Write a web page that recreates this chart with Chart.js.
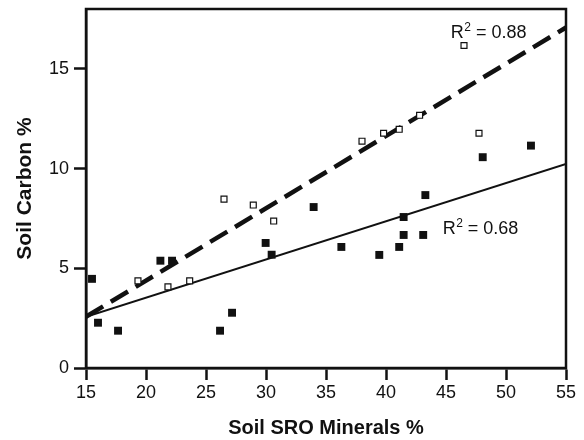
<!DOCTYPE html>
<html>
<head>
<meta charset="utf-8">
<script src="https://cdn.jsdelivr.net/npm/chart.js@4/dist/chart.umd.min.js"></script>
<style>
  html, body { margin: 0; padding: 0; background: #fff; }
  #wrap { width: 584px; height: 440px; }
</style>
</head>
<body>
<div id="wrap"><canvas id="c" width="584" height="440"></canvas></div>
<script>
// ---- data ----
const openX   = [19.33, 21.83, 23.64, 26.5, 28.94, 30.64, 38.0, 39.8, 41.1, 42.8, 46.5, 47.75];
const openY   = [4.37, 4.07, 4.37, 8.47, 8.17, 7.37, 11.37, 11.77, 11.97, 12.67, 16.17, 11.77];
const filledX = [15.5, 16.0, 17.67, 21.2, 22.17, 26.17, 27.17, 29.97, 30.47, 33.97, 36.28, 39.44, 41.1, 41.47, 41.47, 43.1, 43.28, 48.06, 52.08];
const filledY = [4.47, 2.27, 1.87, 5.38, 5.38, 1.87, 2.77, 6.27, 5.68, 8.07, 6.07, 5.67, 6.07, 6.67, 7.57, 6.67, 8.67, 10.57, 11.15];
const dashedFitX = [15, 55];
const dashedFitY = [2.57, 17.07];
const solidFitX  = [15, 55];
const solidFitY  = [2.57, 10.23];
const xTicks = [15, 20, 25, 30, 35, 40, 45, 50, 55];
const yTicks = [0, 5, 10, 15];
const r2Labels = [
  { main: 'R', sup: '2', rest: ' = 0.88', x: 45.4, y: 16.57 },
  { main: 'R', sup: '2', rest: ' = 0.68', x: 44.72, y: 6.7 }
];

const zip = (xs, ys) => xs.map((x, i) => ({ x, y: ys[i] }));
const FONT = "'Liberation Sans', Arial, Helvetica, sans-serif";

const framePlugin = {
  id: 'frame',
  afterDatasetsDraw(chart) {
    const { ctx, chartArea: a, scales } = chart;
    ctx.save();
    ctx.strokeStyle = '#111';
    ctx.lineWidth = 2.5;
    ctx.strokeRect(a.left, a.top, a.right - a.left, a.bottom - a.top);
    // R² annotations
    ctx.fillStyle = '#111';
    ctx.textBaseline = 'alphabetic';
    ctx.textAlign = 'left';
    r2Labels.forEach(l => {
      let px = scales.x.getPixelForValue(l.x);
      const py = scales.y.getPixelForValue(l.y);
      ctx.font = '18px ' + FONT;
      ctx.fillText(l.main, px, py);
      px += ctx.measureText(l.main).width + 0.5;
      ctx.font = '12px ' + FONT;
      ctx.fillText(l.sup, px, py - 7);
      px += ctx.measureText(l.sup).width;
      ctx.font = '18px ' + FONT;
      ctx.fillText(l.rest, px, py);
    });
    ctx.restore();
  }
};

new Chart(document.getElementById('c'), {
  data: {
    datasets: [
      {
        type: 'scatter',
        data: zip(openX, openY),
        pointStyle: 'rect',
        pointRadius: 4.2,
        pointBackgroundColor: '#fff',
        pointBorderColor: '#111',
        pointBorderWidth: 1.2,
        order: 1
      },
      {
        type: 'scatter',
        data: zip(filledX, filledY),
        pointStyle: 'rect',
        pointRadius: 5.6,
        pointBackgroundColor: '#111',
        pointBorderColor: '#111',
        pointBorderWidth: 0,
        order: 2
      },
      {
        type: 'line',
        data: zip(dashedFitX, dashedFitY),
        borderColor: '#111',
        borderWidth: 4.5,
        borderDash: [20, 9],
        pointRadius: 0,
        fill: false,
        order: 3
      },
      {
        type: 'line',
        data: zip(solidFitX, solidFitY),
        borderColor: '#111',
        borderWidth: 2,
        pointRadius: 0,
        fill: false,
        order: 4
      }
    ]
  },
  options: {
    responsive: false,
    animation: false,
    events: [],
    layout: { padding: { left: 0, right: 18, top: 9, bottom: 0 } },
    plugins: { legend: { display: false }, tooltip: { enabled: false } },
    scales: {
      x: {
        type: 'linear',
        min: 15, max: 55,
        afterBuildTicks: s => { s.ticks = xTicks.map(v => ({ value: v })); },
        afterFit: s => { s.height = 72; s.paddingLeft = 0; s.paddingRight = 0; },
        grid: { drawOnChartArea: false, drawTicks: true, tickLength: 12, tickWidth: 2.5, tickColor: '#111' },
        border: { display: true, color: '#111', width: 2.5 },
        ticks: { color: '#111', font: { family: FONT, size: 18 }, padding: 2, maxRotation: 0, autoSkip: false },
        title: { display: true, text: 'Soil SRO Minerals %', color: '#111', font: { family: FONT, size: 20, weight: 'bold', lineHeight: 1.2 }, padding: { top: 0, bottom: 0 } }
      },
      y: {
        type: 'linear',
        min: 0, max: 18,
        afterBuildTicks: s => { s.ticks = yTicks.map(v => ({ value: v })); },
        afterFit: s => { s.width = 86; s.paddingTop = 0; s.paddingBottom = 0; },
        grid: { drawOnChartArea: false, drawTicks: true, tickLength: 12, tickWidth: 2.5, tickColor: '#111' },
        border: { display: true, color: '#111', width: 2.5 },
        ticks: { color: '#111', font: { family: FONT, size: 18 }, padding: 5, autoSkip: false },
        title: { display: true, text: 'Soil Carbon %', color: '#111', font: { family: FONT, size: 21, weight: 'bold', lineHeight: 1.2 }, padding: { top: 12.5, bottom: 0 } }
      }
    }
  },
  plugins: [framePlugin]
});
</script>
</body>
</html>
